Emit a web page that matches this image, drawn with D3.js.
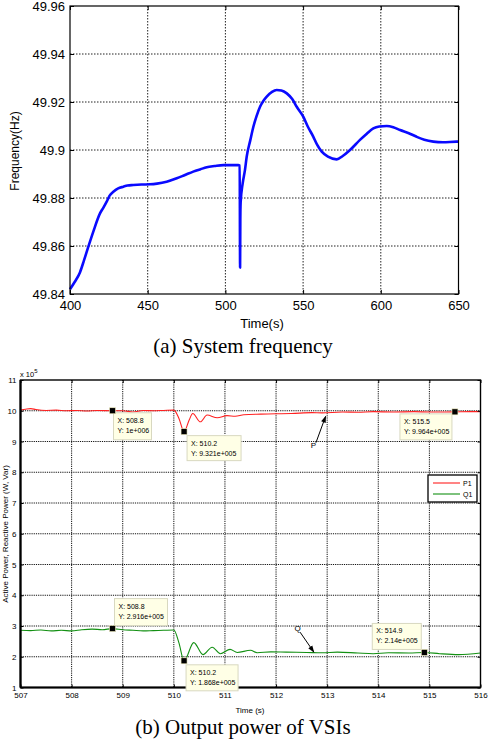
<!DOCTYPE html>
<html>
<head>
<meta charset="utf-8">
<script src="https://cdnjs.cloudflare.com/ajax/libs/d3/7.8.5/d3.min.js"></script>
<style>
  html, body { margin: 0; padding: 0; background: #fff; }
  svg { display: block; }
  text { font-family: "Liberation Sans", Arial, sans-serif; fill: #000; }
  .cap { font-family: "Liberation Serif", "Times New Roman", serif; }
</style>
</head>
<body>
<div id="chart"></div>
<script>
// (a) system frequency
var freqTime = [400, 403, 406.4, 409, 411.8, 415, 419.3, 421.5, 423.6, 425.5, 427.9, 431, 434.3, 437, 440.7,
  446, 451.5, 456, 462.2, 468.7, 474, 479.3, 484, 488, 493, 498.7, 503, 508.3, 509.2, 509.45, 509.6, 509.8,
  511.1, 512.6, 513.7, 516, 518, 520, 522.3, 524.5, 526.6, 530, 533, 536, 539.5, 543, 545.9, 550.1, 553,
  556.6, 559, 562, 566, 571.6, 575.5, 580.2, 586.6, 591, 595.2, 599, 603.8, 608, 612.4, 618, 623.1, 628,
  633.8, 640, 648.8, 650];
var freqHz = [49.842, 49.845, 49.849, 49.854, 49.8597, 49.866, 49.8736, 49.876, 49.8785, 49.881, 49.8826, 49.884, 49.8847, 49.8852, 49.8854,
  49.8856, 49.8857, 49.886, 49.8868, 49.8882, 49.8896, 49.891, 49.892, 49.8928, 49.8933, 49.8937, 49.8937, 49.8937, 49.8935, 49.851, 49.871, 49.878,
  49.886, 49.8917, 49.8972, 49.904, 49.9097, 49.914, 49.918, 49.9205, 49.9222, 49.9242, 49.925, 49.9248, 49.9236, 49.9212, 49.918, 49.9139, 49.9098,
  49.9055, 49.9022, 49.8993, 49.8972, 49.8961, 49.8975, 49.9, 49.9042, 49.9068, 49.909, 49.9098, 49.91, 49.9095, 49.9083, 49.907, 49.9055, 49.9043,
  49.9035, 49.9032, 49.9035, 49.9035];
var freqXTicks = [400, 450, 500, 550, 600, 650];
var freqYTicks = [49.84, 49.86, 49.88, 49.9, 49.92, 49.94, 49.96];

// (b) output power of VSIs, values in units of 1e5
var pTime = [507.0, 507.1, 507.2, 507.3, 507.5, 507.7, 507.9, 508.1, 508.3, 508.5, 508.8, 509.0, 509.2, 509.4, 509.6, 509.8,
  510.0, 510.1, 510.2, 510.3, 510.37, 510.52, 510.65, 510.85, 511.04, 511.2, 511.37, 511.7, 512.0, 512.3, 512.7, 512.9,
  513.3, 513.6, 513.9, 514.3, 514.7, 515.0, 515.5, 515.8, 516.0];
var pValue = [10.02, 10.05, 10.07, 10.04, 10.01, 10.02, 10.0, 10.01, 9.99, 10.01, 10.0, 10.0, 9.96, 10.01, 10.0, 10.01,
  10.02, 9.75, 9.32, 9.7, 9.91, 9.64, 9.86, 9.77, 9.84, 9.82, 9.87, 9.89, 9.9, 9.91, 9.94, 9.93,
  9.96, 9.95, 9.97, 9.96, 9.97, 9.96, 9.964, 9.97, 9.97];
var qTime = [507.0, 507.2, 507.4, 507.6, 507.8, 508.0, 508.2, 508.4, 508.6, 508.8, 509.0, 509.2, 509.4, 509.6, 509.8,
  510.0, 510.1, 510.2, 510.39, 510.57, 510.75, 510.91, 511.1, 511.24, 511.5, 511.63, 511.9, 512.2, 512.6, 512.9,
  513.2, 513.6, 513.9, 514.2, 514.6, 514.9, 515.2, 515.57, 516.0];
var qValue = [2.86, 2.85, 2.87, 2.84, 2.86, 2.84, 2.88, 2.9, 2.88, 2.916, 2.88, 2.86, 2.84, 2.85, 2.86,
  2.87, 2.45, 1.868, 2.46, 2.07, 2.31, 2.1, 2.24, 2.14, 2.21, 2.13, 2.16, 2.15, 2.14, 2.13,
  2.15, 2.12, 2.1, 2.13, 2.12, 2.14, 2.1, 2.07, 2.12];
var powerXTicks = [507, 508, 509, 510, 511, 512, 513, 514, 515, 516];
var powerYTicks = [1, 2, 3, 4, 5, 6, 7, 8, 9, 10, 11];
var seriesNames = ['P1', 'Q1'];

// data tips: time, value (1e5), text lines
var tipTime = [508.8, 510.2, 515.5, 508.8, 510.2, 514.9];
var tipValue = [10.0, 9.321, 9.964, 2.916, 1.868, 2.14];
var tipLines = [
  ['X: 508.8', 'Y: 1e+006'],
  ['X: 510.2', 'Y: 9.321e+005'],
  ['X: 515.5', 'Y: 9.964e+005'],
  ['X: 508.8', 'Y: 2.916e+005'],
  ['X: 510.2', 'Y: 1.868e+005'],
  ['X: 514.9', 'Y: 2.14e+005']
];
// box offset from marker (px) and size
var tipBox = [
  { dx: 1, dy: 2, w: 38, h: 27 },
  { dx: 3, dy: 4, w: 54, h: 25 },
  { dx: -55, dy: 2, w: 52, h: 26 },
  { dx: 2, dy: -30, w: 53, h: 27 },
  { dx: 2, dy: 4, w: 52, h: 26 },
  { dx: -52, dy: -29, w: 49, h: 26 }
];

var W = 488, H = 744;
var svg = d3.select('#chart').append('svg')
  .attr('width', W).attr('height', H)
  .attr('viewBox', [0, 0, W, H]);
svg.append('rect').attr('width', W).attr('height', H).attr('fill', '#fff');

function gridAndBox(g, x, y, xt, yt, dash, gridColor) {
  var L = x.range()[0], R = x.range()[1], B = y.range()[0], T = y.range()[1];
  g.append('g').selectAll('line.v').data(xt.slice(1, -1)).join('line')
    .attr('x1', function (d) { return x(d); }).attr('x2', function (d) { return x(d); })
    .attr('y1', T).attr('y2', B)
    .attr('stroke', gridColor).attr('stroke-width', 1).attr('stroke-dasharray', dash);
  g.append('g').selectAll('line.h').data(yt.slice(1, -1)).join('line')
    .attr('y1', function (d) { return y(d); }).attr('y2', function (d) { return y(d); })
    .attr('x1', L).attr('x2', R)
    .attr('stroke', gridColor).attr('stroke-width', 1).attr('stroke-dasharray', dash);
}

function innerTicks(g, x, y, xt, yt, len) {
  var R = x.range()[1], T = y.range()[1];
  g.append('g').attr('transform', 'translate(0,' + T + ')')
    .call(d3.axisTop(x).tickValues(xt).tickSizeInner(-len).tickSizeOuter(0).tickFormat(''))
    .call(function (a) { a.select('.domain').remove(); });
  g.append('g').attr('transform', 'translate(' + R + ',0)')
    .call(d3.axisRight(y).tickValues(yt).tickSizeInner(-len).tickSizeOuter(0).tickFormat(''))
    .call(function (a) { a.select('.domain').remove(); });
}

// ---------- (a) ----------
var xA = d3.scaleLinear().domain([400, 650]).range([70, 458.5]);
var yA = d3.scaleLinear().domain([49.84, 49.96]).range([294, 6]);
var gA = svg.append('g');

gridAndBox(gA, xA, yA, freqXTicks, freqYTicks, '1.5,1.5', '#222');

var freqData = d3.zip(freqTime, freqHz);
gA.append('path')
  .datum(freqData)
  .attr('fill', 'none')
  .attr('stroke', '#0a0aff')
  .attr('stroke-width', 2.6)
  .attr('stroke-linejoin', 'round')
  .attr('d', d3.line()
    .x(function (d) { return xA(d[0]); })
    .y(function (d) { return yA(d[1]); })
    .curve(d3.curveMonotoneX));

var axA = gA.append('g').attr('transform', 'translate(0,294)')
  .call(d3.axisBottom(xA).tickValues(freqXTicks).tickSizeInner(-4).tickSizeOuter(0).tickPadding(7));
var ayA = gA.append('g').attr('transform', 'translate(70,0)')
  .call(d3.axisLeft(yA).tickValues(freqYTicks).tickSizeInner(-4).tickSizeOuter(0).tickPadding(5)
    .tickFormat(function (d) { return String(+d.toFixed(2)); }));
innerTicks(gA, xA, yA, freqXTicks, freqYTicks, 4);
[axA, ayA].forEach(function (a) {
  a.selectAll('text').attr('font-size', 13).attr('font-family', '"Liberation Sans", Arial, sans-serif').attr('fill', '#111');
  a.selectAll('line').attr('stroke', '#000');
  a.select('.domain').remove();
});
gA.append('rect').attr('x', 70).attr('y', 6).attr('width', 388.5).attr('height', 288)
  .attr('fill', 'none').attr('stroke', '#000').attr('stroke-width', 1.2);

gA.append('text').attr('x', 262).attr('y', 328).attr('text-anchor', 'middle')
  .attr('font-size', 13).text('Time(s)');
gA.append('text').attr('transform', 'translate(19,151) rotate(-90)').attr('text-anchor', 'middle')
  .attr('font-size', 12).text('Frequency(Hz)');
gA.append('text').attr('class', 'cap').attr('x', 243).attr('y', 353).attr('text-anchor', 'middle')
  .attr('font-size', 21).text('(a) System frequency');

// ---------- (b) ----------
var xB = d3.scaleLinear().domain([507, 516]).range([20.5, 480.5]);
var yB = d3.scaleLinear().domain([1, 11]).range([687.5, 380]);
var gB = svg.append('g');

gridAndBox(gB, xB, yB, powerXTicks, powerYTicks, '1.2,1', '#111');

var lineB = d3.line()
  .x(function (d) { return xB(d[0]); })
  .y(function (d) { return yB(d[1]); })
  .curve(d3.curveMonotoneX);
gB.append('path').datum(d3.zip(pTime, pValue))
  .attr('fill', 'none').attr('stroke', '#ff2020').attr('stroke-width', 1.1).attr('d', lineB);
gB.append('path').datum(d3.zip(qTime, qValue))
  .attr('fill', 'none').attr('stroke', '#139013').attr('stroke-width', 1.1).attr('d', lineB);

var axB = gB.append('g').attr('transform', 'translate(0,687.5)')
  .call(d3.axisBottom(xB).tickValues(powerXTicks).tickSizeInner(-3).tickSizeOuter(0).tickPadding(5));
var ayB = gB.append('g').attr('transform', 'translate(20.5,0)')
  .call(d3.axisLeft(yB).tickValues(powerYTicks).tickSizeInner(-3).tickSizeOuter(0).tickPadding(4));
innerTicks(gB, xB, yB, powerXTicks, powerYTicks, 3);
[axB, ayB].forEach(function (a) {
  a.selectAll('text').attr('font-size', 8).attr('font-family', '"Liberation Sans", Arial, sans-serif').attr('fill', '#222');
  a.selectAll('line').attr('stroke', '#000');
  a.select('.domain').remove();
});
gB.append('rect').attr('x', 20.5).attr('y', 380).attr('width', 460).attr('height', 307.5)
  .attr('fill', 'none').attr('stroke', '#000').attr('stroke-width', 1.4);
gB.append('line').attr('x1', 20.5).attr('x2', 20.5).attr('y1', 380).attr('y2', 687.5)
  .attr('stroke', '#000').attr('stroke-width', 2.2);
gB.append('line').attr('x1', 20.5).attr('x2', 480.5).attr('y1', 687.5).attr('y2', 687.5)
  .attr('stroke', '#000').attr('stroke-width', 2);

// exponent label
var ex = gB.append('text').attr('x', 20).attr('y', 377).attr('font-size', 7.5).attr('fill', '#222');
ex.append('tspan').text('x 10');
ex.append('tspan').attr('dy', -4).attr('font-size', 6).text('5');

gB.append('text').attr('x', 250).attr('y', 713).attr('text-anchor', 'middle')
  .attr('font-size', 8).text('Time (s)');
gB.append('text').attr('transform', 'translate(8,534) rotate(-90)').attr('text-anchor', 'middle')
  .attr('font-size', 8).attr('fill', '#666').text('Active Power, Reactive Power (W, Var)');
gB.append('text').attr('class', 'cap').attr('x', 243).attr('y', 734).attr('text-anchor', 'middle')
  .attr('font-size', 21).text('(b) Output power of VSIs');

// legend
var leg = gB.append('g').attr('transform', 'translate(428,475)');
leg.append('rect').attr('width', 49).attr('height', 27).attr('fill', '#fff')
  .attr('stroke', '#000').attr('stroke-width', 1.3);
var legColors = ['#ff2020', '#139013'];
seriesNames.forEach(function (name, i) {
  var yy = 8 + i * 11;
  leg.append('line').attr('x1', 5).attr('x2', 32).attr('y1', yy).attr('y2', yy)
    .attr('stroke', legColors[i]).attr('stroke-width', 1.1);
  leg.append('text').attr('x', 35).attr('y', yy + 2.5).attr('font-size', 7).attr('fill', '#222').text(name);
});

// annotations P and Q arrows
var defs = svg.append('defs');
defs.append('marker').attr('id', 'ah').attr('viewBox', '0 0 10 10').attr('refX', 9).attr('refY', 5)
  .attr('markerWidth', 8).attr('markerHeight', 7).attr('orient', 'auto')
  .append('path').attr('d', 'M0,1.5 L10,5 L0,8.5 Z').attr('fill', '#000');
gB.append('line').attr('x1', xB(512.78)).attr('y1', yB(8.96)).attr('x2', xB(512.97)).attr('y2', yB(9.82))
  .attr('stroke', '#000').attr('stroke-width', 1).attr('marker-end', 'url(#ah)');
gB.append('text').attr('x', xB(512.73)).attr('y', yB(8.8)).attr('text-anchor', 'middle')
  .attr('font-size', 8).attr('fill', '#222').text('P');
gB.append('line').attr('x1', xB(512.47)).attr('y1', yB(2.8)).attr('x2', xB(512.74)).attr('y2', yB(2.15))
  .attr('stroke', '#000').attr('stroke-width', 1).attr('marker-end', 'url(#ah)');
gB.append('text').attr('x', xB(512.42)).attr('y', yB(2.85)).attr('text-anchor', 'middle')
  .attr('font-size', 8).attr('fill', '#222').text('Q');

// data tips
tipTime.forEach(function (t, i) {
  var mx = xB(t), my = yB(tipValue[i]);
  var b = tipBox[i];
  var g = gB.append('g');
  g.append('rect').attr('x', mx + b.dx).attr('y', my + b.dy).attr('width', b.w).attr('height', b.h)
    .attr('fill', '#ffffe6').attr('stroke', '#d8d8c0').attr('stroke-width', 1);
  tipLines[i].forEach(function (s, k) {
    g.append('text').attr('x', mx + b.dx + 4).attr('y', my + b.dy + 10 + k * 10)
      .attr('font-size', 7).attr('fill', '#222').text(s);
  });
  g.append('rect').attr('x', mx - 3).attr('y', my - 3).attr('width', 6).attr('height', 6)
    .attr('fill', '#000').attr('stroke', '#f4f0c0').attr('stroke-width', 0.6);
});
</script>
</body>
</html>
